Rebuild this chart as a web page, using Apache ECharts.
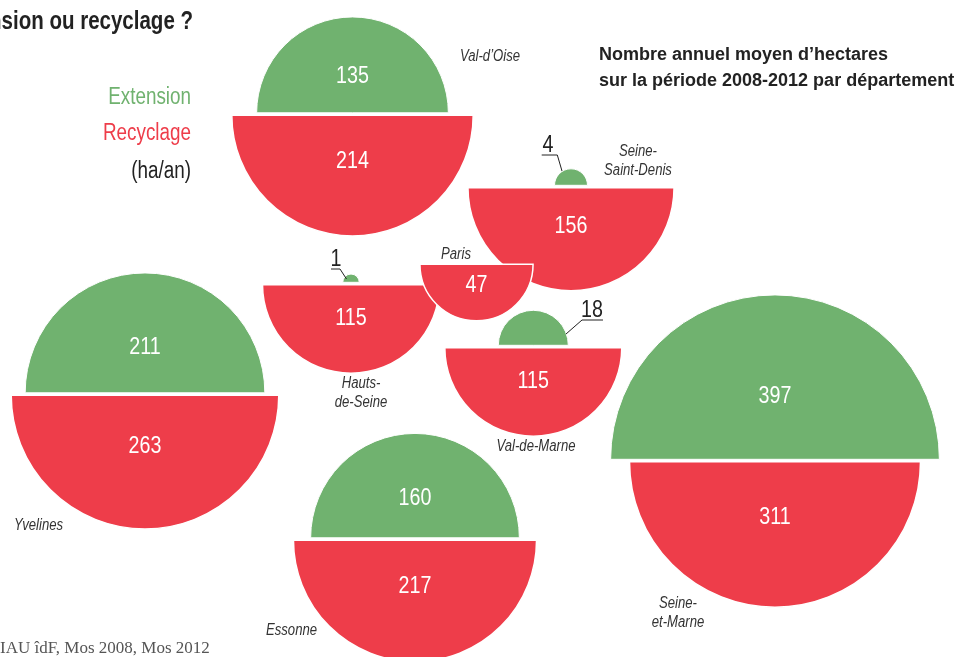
<!DOCTYPE html>
<html>
<head>
<meta charset="utf-8">
<script src="https://cdn.jsdelivr.net/npm/echarts@6/dist/echarts.min.js"></script>
<style>
html, body { margin: 0; padding: 0; background: #fff; }
#chart { width: 955px; height: 657px; }
</style>
</head>
<body>
<div id="chart"></div>
<script>
// hectares par an, moyenne 2008-2012
const departements = ['Val-d’Oise', 'Yvelines', 'Seine-\nSaint-Denis', 'Hauts-\nde-Seine', 'Paris', 'Val-de-Marne', 'Essonne', 'Seine-\net-Marne']
const extension = [135, 211, 4, 1, 0, 18, 160, 397]
const recyclage = [214, 263, 156, 115, 47, 115, 217, 311]

// map-like placement (axis units = px)
const centres = [[352.5, 114], [145, 394], [571, 186.5], [351, 283.5], [476.5, 263], [533.3, 346.5], [415, 539], [775, 460.5]]
const nomPos = [[460, 57, 'left'], [14, 526, 'left'], [638, 161.5, 'center'], [361, 393.5, 'center'], [456, 255, 'center'], [536, 447, 'center'], [266, 631, 'left'], [678, 613, 'center']]
// callouts for the tiny half-discs: text position + leader polyline
const renvois = {
	2: { txt: [548, 145], line: [[541.7, 155], [557.3, 155], [562, 171]] },
	3: { txt: [336, 259], line: [[331, 269], [340, 269], [346.5, 279]] },
	5: { txt: [592, 310], line: [[603, 320], [582, 320], [566, 334]] },
}

const K = 8.25
const GREEN = '#70b26f'
const RED = '#ee3d4a'
const SANS = '"Liberation Sans", Arial, sans-serif'
const SQUEEZE = 0.82 // fake a condensed face

const chart = echarts.init(document.getElementById('chart'))

// condensed text element
function ctext(x, y, text, font, fill, align, extra) {
	return {
		type: 'text', x, y, scaleX: SQUEEZE,
		style: Object.assign({ text, x: 0, y: 0, align: align || 'center', verticalAlign: 'middle', fill, font }, extra || {}),
	}
}

function renderItem(params, api) {
	const i = params.dataIndex
	const c = api.coord([api.value(0), api.value(1)])
	const ext = api.value(2)
	const rec = api.value(3)
	const rE = api.size([K * Math.sqrt(ext), 0])[0]
	const rR = api.size([K * Math.sqrt(rec), 0])[0]
	const children = []
	if (ext > 0) {
		children.push({
			type: 'sector',
			shape: { cx: c[0], cy: c[1] - 1.2, r: rE, r0: 0, startAngle: Math.PI, endAngle: 2 * Math.PI, clockwise: true },
			style: { fill: GREEN, stroke: '#fff', lineWidth: 1 },
		})
		if (rE > 40) {
			children.push(ctext(c[0], c[1] - 1.2 - rE * 0.38, String(ext), '24px ' + SANS, '#fff'))
		}
	}
	children.push({
		type: 'sector',
		shape: { cx: c[0], cy: c[1] + 1.2, r: rR, r0: 0, startAngle: 0, endAngle: Math.PI, clockwise: true },
		style: { fill: RED, stroke: '#fff', lineWidth: 1.5 },
	})
	children.push(ctext(c[0], c[1] + 1.2 + rR * 0.38, String(rec), '24px ' + SANS, '#fff'))
	const rv = renvois[i]
	if (rv) {
		const t = api.coord(rv.txt)
		children.push(ctext(t[0], t[1], String(ext), '24px ' + SANS, '#222'))
		children.push({
			type: 'polyline',
			shape: { points: rv.line.map(p => api.coord(p)) },
			style: { stroke: '#222', lineWidth: 1, fill: null },
		})
	}
	const np = nomPos[i]
	const n = api.coord([np[0], np[1]])
	children.push(ctext(n[0], n[1], departements[i], 'italic 16px ' + SANS, '#333', np[2], { lineHeight: 19 }))
	return { type: 'group', children }
}

const option = {
	animation: false,
	backgroundColor: '#fff',
	grid: { left: 0, right: 0, top: 0, bottom: 0 },
	xAxis: { type: 'value', min: 0, max: 955, show: false },
	yAxis: { type: 'value', min: 0, max: 657, inverse: true, show: false },
	series: [{
		type: 'custom',
		renderItem,
		data: departements.map((d, i) => [centres[i][0], centres[i][1], extension[i], recyclage[i]]),
	}],
	graphic: [
		ctext(193, 22, 'Extension ou recyclage ?', 'bold 25px ' + SANS, '#222', 'right'),
		ctext(191, 98, 'Extension', '23px ' + SANS, GREEN, 'right'),
		ctext(191, 134, 'Recyclage', '23px ' + SANS, RED, 'right'),
		ctext(191, 172, '(ha/an)', '23px ' + SANS, '#222', 'right'),
		{ type: 'text', x: 599, y: 55, style: { text: 'Nombre annuel moyen d’hectares', align: 'left', verticalAlign: 'middle', fill: '#222', font: 'bold 18px ' + SANS } },
		{ type: 'text', x: 599, y: 81, style: { text: 'sur la période 2008-2012 par département', align: 'left', verticalAlign: 'middle', fill: '#222', font: 'bold 18px ' + SANS } },
		{ type: 'text', x: 0, y: 649, style: { text: 'IAU îdF, Mos 2008, Mos 2012', align: 'left', verticalAlign: 'middle', fill: '#555', font: '17px "Liberation Serif", "DejaVu Serif", serif' } },
	],
}

chart.setOption(option)
window.addEventListener('resize', () => chart.resize())
</script>
</body>
</html>
